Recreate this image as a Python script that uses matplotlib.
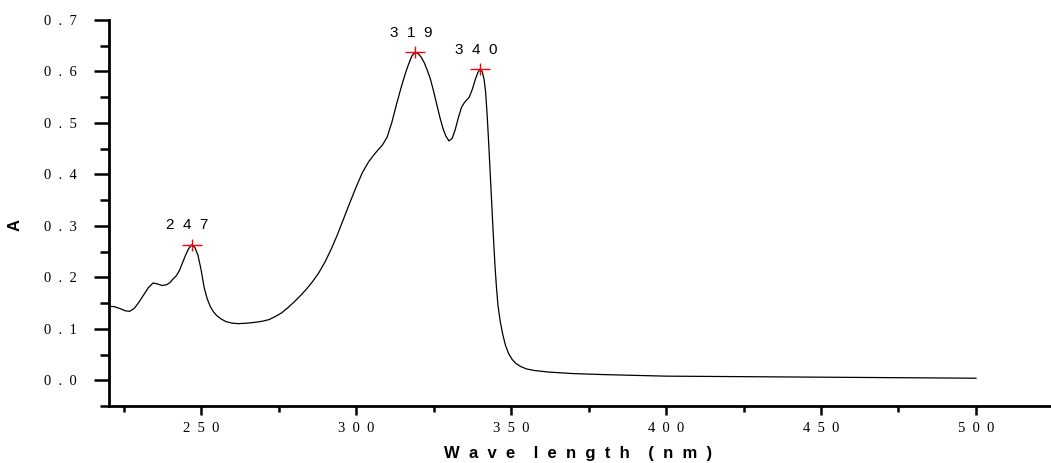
import matplotlib
matplotlib.use('Agg')
import matplotlib.pyplot as plt
from matplotlib.ticker import MultipleLocator, FixedLocator

# spectrum (wavelength nm, absorbance)
wavelength = [220, 222, 224, 225.5, 227, 228.5, 230, 231.5, 233, 234.5, 236, 237.5, 239, 240,
              241, 242, 243, 244, 245, 246, 247, 248, 249, 250, 251, 252, 253, 254, 255,
              256.5, 258, 260, 262, 265, 268, 270, 272, 274, 276, 278, 280, 282, 284, 286,
              288, 290, 292, 294, 296, 298, 300, 302, 304, 305.5, 307, 308.5, 310, 311.5,
              313, 314.5, 316, 317, 318, 319, 320, 321, 322, 323, 324, 325, 326, 327, 328,
              329, 330, 331, 332, 333, 334, 335, 336.5, 337.5, 338.5, 339.3, 340, 340.7,
              341.3, 341.8, 342.3, 342.8, 343.3, 343.8, 344.3, 344.8, 345.3, 345.8, 346.5,
              347.3, 348.2, 349.2, 350.3, 351.5, 353, 355, 357.5, 362, 370, 380, 400, 425,
              450, 475, 500]
absorb = [0.144, 0.143, 0.139, 0.135, 0.134, 0.140, 0.152, 0.166, 0.180, 0.189, 0.187, 0.184,
          0.186, 0.190, 0.197, 0.203, 0.213, 0.228, 0.243, 0.256, 0.263, 0.258, 0.243, 0.215,
          0.180, 0.158, 0.143, 0.133, 0.126, 0.119, 0.114, 0.111, 0.110, 0.111, 0.113, 0.115,
          0.118, 0.124, 0.131, 0.141, 0.152, 0.164, 0.177, 0.192, 0.209, 0.230, 0.255, 0.283,
          0.314, 0.345, 0.375, 0.403, 0.424, 0.436, 0.447, 0.457, 0.472, 0.500, 0.535, 0.568,
          0.598, 0.615, 0.630, 0.637, 0.635, 0.628, 0.617, 0.602, 0.585, 0.562, 0.537, 0.512,
          0.490, 0.474, 0.465, 0.470, 0.487, 0.510, 0.530, 0.540, 0.550, 0.565, 0.585, 0.598,
          0.604, 0.600, 0.585, 0.560, 0.515, 0.460, 0.400, 0.340, 0.280, 0.225, 0.180, 0.145,
          0.115, 0.090, 0.068, 0.052, 0.041, 0.033, 0.027, 0.022, 0.019, 0.016, 0.013, 0.011,
          0.008, 0.007, 0.006, 0.005, 0.004]

peak_x = [247, 319, 340]
peak_y = [0.263, 0.637, 0.604]
peak_labels = ['2  4  7', '3  1  9', '3  4  0']

x_ticks = [250, 300, 350, 400, 450, 500]
y_ticks = [0.0, 0.1, 0.2, 0.3, 0.4, 0.5, 0.6, 0.7]


def spaced(s):
    return '  '.join(list(s))


fig = plt.figure(figsize=(10.51, 4.63), dpi=100)
ax = fig.add_axes([109 / 1051, 1 - 406 / 463, 942 / 1051, 386 / 463])

ax.plot(wavelength, absorb, color='black', lw=0.9, solid_joinstyle='round')

# peak markers: wide red cross
ax.plot(peak_x, peak_y, ls='none', marker='_', ms=15, mew=1.0, color='red')
ax.plot(peak_x, peak_y, ls='none', marker='|', ms=9, mew=1.0, color='red')
for px, py, lab in zip(peak_x, peak_y, peak_labels):
    ax.annotate(lab, (px, py), xytext=(-3, 9), textcoords='offset points',
                ha='center', va='bottom', fontsize=11, family='Liberation Sans')

ax.set_xlim(220.3, 524.2)
ax.set_ylim(-0.05, 0.7)

ax.xaxis.set_major_locator(FixedLocator(x_ticks))
ax.xaxis.set_minor_locator(MultipleLocator(25))
ax.yaxis.set_major_locator(FixedLocator(y_ticks))
ax.yaxis.set_minor_locator(MultipleLocator(0.05))

ax.set_xticklabels([spaced(str(v)) for v in x_ticks], family='Liberation Serif', fontsize=10.5)
ax.set_yticklabels([spaced('%.1f' % v) for v in y_ticks], family='Liberation Serif', fontsize=10.5)

ax.spines['top'].set_visible(False)
ax.spines['right'].set_visible(False)
ax.spines['left'].set_linewidth(2)
ax.spines['bottom'].set_linewidth(2)

ax.tick_params(axis='y', which='major', direction='out', length=11, width=1.8, pad=12)
ax.tick_params(axis='y', which='minor', direction='out', length=6.5, width=1.8)
ax.tick_params(axis='x', which='major', direction='out', length=6.5, width=1.8, pad=5)
ax.tick_params(axis='x', which='minor', direction='out', length=4.5, width=1.8)

ax.set_ylabel('A', fontsize=12, fontweight='bold', family='Liberation Sans')
ax.yaxis.set_label_coords(-0.092, 0.47)
ax.set_xlabel('W  a  v  e    l  e  n  g  t  h    (  n  m  )', fontsize=12,
              fontweight='bold', family='Liberation Sans')
ax.xaxis.set_label_coords(0.498, -0.104)

fig.savefig('out.png', dpi=100)
